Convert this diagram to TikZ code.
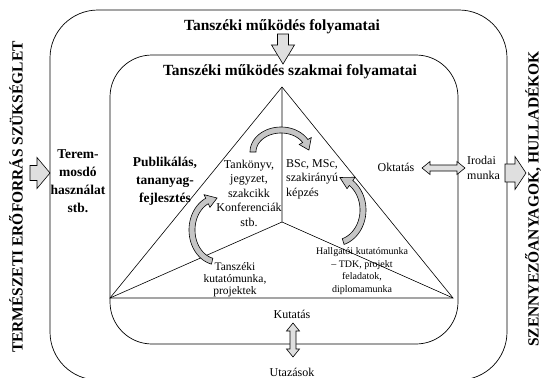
\documentclass[tikz,border=0pt]{standalone}
\usepackage{fontspec}
\setmainfont{Liberation Serif}

% curved block arrow: cx, cy, rx, ry, from, to, tip angle
\newcommand\bentarrow[7]{%
  \filldraw[bentfill] plot[domain=#5:#6,samples=40] ({#1+(#3+3)*cos(\x)},{#2+(#4+3)*sin(\x)})
    -- ({#1+(#3+7)*cos(#6)},{#2+(#4+7)*sin(#6)})
    -- ({#1+#3*cos(#7)},{#2+#4*sin(#7)})
    -- ({#1+(#3-7)*cos(#6)},{#2+(#4-7)*sin(#6)})
    -- plot[domain=#6:#5,samples=40] ({#1+(#3-3)*cos(\x)},{#2+(#4-3)*sin(\x)})
    -- cycle;}

\begin{document}
\begin{tikzpicture}[x=1pt,y=-1pt,
    box/.style={draw,line width=0.7pt},
    edge/.style={draw,line width=0.6pt},
    blockfill/.style={draw,line width=0.6pt,fill=gray!25},
    bentfill/.style={draw,line width=0.6pt,fill=gray!45},
    title/.style={font=\fontsize{15.5}{18}\selectfont\bfseries},
    side/.style={font=\fontsize{15.5}{18}\selectfont\bfseries,rotate=90},
    bold/.style={font=\fontsize{13.5}{18}\selectfont\bfseries,align=center},
    txt/.style={font=\fontsize{12}{14.5}\selectfont,align=center},
    small/.style={font=\fontsize{10}{12.7}\selectfont,align=center}]
  \useasboundingbox (0,0) rectangle (550,378);

  % frames
  \draw[box,rounded corners=48pt] (50,10) rectangle (507,380);
  \draw[box,rounded corners=42pt] (110,55) rectangle (458,344);

  % triangle
  \coordinate (apex) at (282,87);
  \coordinate (mid) at (282,222);
  \coordinate (lft) at (110,298);
  \coordinate (rgt) at (453,298);
  \draw[edge] (apex) -- (lft) -- (rgt) -- cycle;
  \draw[edge] (mid) -- (apex) (mid) -- (lft) (mid) -- (rgt);

  % block arrows
  \filldraw[blockfill] (277.5,34) -- (277.5,45) -- (271.5,45) -- (283,64) -- (294.5,45) -- (288.5,45) -- (288.5,34) -- cycle;
  \filldraw[blockfill] (30,165.5) -- (37,165.5) -- (37,157.5) -- (50,173) -- (37,188.5) -- (37,180.5) -- (30,180.5) -- cycle;
  \filldraw[blockfill] (505,164) -- (515,164) -- (515,156.5) -- (526,173) -- (515,189.5) -- (515,182) -- (505,182) -- cycle;
  \filldraw[blockfill] (422,168) -- (430,161.5) -- (430,165) -- (457,165) -- (457,161.5) -- (465,168)
    -- (457,174.5) -- (457,171) -- (430,171) -- (430,174.5) -- cycle;
  \filldraw[blockfill] (293,323) -- (299.5,331) -- (296,331) -- (296,349) -- (299.5,349) -- (293,357)
    -- (286.5,349) -- (290,349) -- (290,331) -- (286.5,331) -- cycle;

  % cycle arrows
  \bentarrow{281}{152}{28}{22}{180}{330}{355}
  \bentarrow{335}{210}{28}{33}{73}{-55}{-80}
  \bentarrow{218}{230}{26}{32}{103}{245}{268}

  % labels
  \node[title] (outtitle) at (282,27) {Tanszéki működés folyamatai};
  \node[title] (intitle) at (290,72) {Tanszéki működés szakmai folyamatai};
  \node[side] (need) at (16,197) {TERMÉSZETI ERŐFORRÁS SZÜKSÉGLET};
  \node[side] (waste) at (533,199) {SZENNYEZŐANYAGOK, HULLADÉKOK};
  \node[bold] (room) at (78,181) {Terem-\\mosdó\\használat\\stb.};
  \node[bold] (publ) at (165,181) {Publikálás,\\tananyag-\\fejlesztés};
  \node[txt] (books) at (249,193) {Tankönyv,\\jegyzet,\\szakcikk\\Konferenciák\\stb.};
  \node[txt,align=left,anchor=west,inner sep=0pt] (bsc) at (286,179) {BSc, MSc,\\szakirányú\\képzés};
  \node[small] (stud) at (362,271) {Hallgatói kutatómunka\\– TDK, projekt\\feladatok,\\diplomamunka};
  \node[txt,font=\fontsize{11.5}{12}\selectfont] (dept) at (235,280) {Tanszéki\\kutatómunka,\\projektek};
  \node[txt] (teach) at (396,167) {Oktatás};
  \node[txt,align=left,anchor=west,inner sep=0pt] (office) at (467,168) {Irodai\\munka};
  \node[txt] (res) at (292,314) {Kutatás};
  \node[txt] (trip) at (292,372) {Utazások};
\end{tikzpicture}
\end{document}
